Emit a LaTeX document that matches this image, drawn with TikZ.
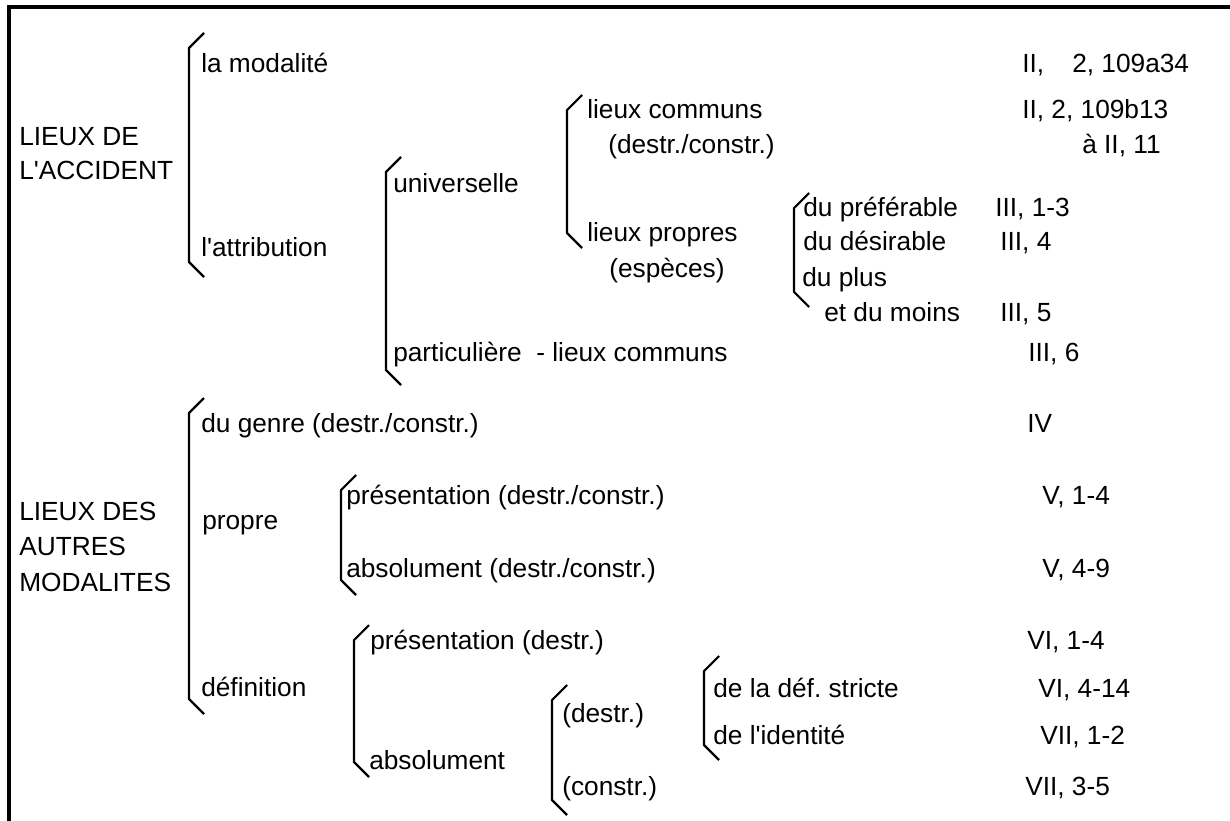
\documentclass[tikz,border=0pt]{standalone}
\usepackage{fontspec}
\setmainfont{Liberation Sans}[Ligatures=TeXOff]
\newcommand\brkt[3]{\draw[brk] (#1+15,#2) -- (#1,#2+15) -- (#1,#3-15) -- (#1+15,#3);}
\begin{document}
\frenchspacing
\begin{tikzpicture}[x=0.75pt,y=-0.75pt,
  lbl/.style={anchor=base west,inner sep=0pt,font=\fontsize{19.7}{24}\selectfont},
  brk/.style={line width=1.6pt,line join=miter},
  frame/.style={line width=2.3pt}]
\useasboundingbox (0,0) rectangle (1230,820);
\draw[frame] (9,830) -- (9,7) -- (1240,7);
% brackets
\brkt{189}{33}{277}
\brkt{386}{157}{385}
\brkt{567}{95}{248}
\brkt{794}{193}{307}
\brkt{189}{398}{714}
\brkt{341}{475}{595}
\brkt{354}{625}{777}
\brkt{552}{685}{815}
\brkt{704}{656}{760}
% first part
\node[lbl] (lda1) at (19,146) {LIEUX DE};
\node[lbl] (lda2) at (19,180) {L'ACCIDENT};
\node[lbl] (mod) at (201,73) {la modalité};
\node[lbl] (attr) at (201,256) {l'attribution};
\node[lbl] (univ) at (393,192) {universelle};
\node[lbl] (part) at (393,361) {particulière\ \ - lieux communs};
\node[lbl] (lc) at (587,119) {lieux communs};
\node[lbl] (lcd) at (608,154) {(destr./constr.)};
\node[lbl] (lp) at (587,241) {lieux propres};
\node[lbl] (lpe) at (609,277) {(espèces)};
\node[lbl] (pref) at (803,216) {du préférable};
\node[lbl] (des) at (803,250) {du désirable};
\node[lbl] (plus) at (802,286) {du plus};
\node[lbl] (moins) at (824,321) {et du moins};
% second part
\node[lbl] (ldm1) at (19,520) {LIEUX DES};
\node[lbl] (ldm2) at (19,555) {AUTRES};
\node[lbl] (ldm3) at (19,591) {MODALITES};
\node[lbl] (genre) at (201,432) {du genre (destr./constr.)};
\node[lbl] (propre) at (202,529) {propre};
\node[lbl] (def) at (201,696) {définition};
\node[lbl] (pres1) at (346,504) {présentation (destr./constr.)};
\node[lbl] (abs1) at (346,577) {absolument (destr./constr.)};
\node[lbl] (pres2) at (370,649) {présentation (destr.)};
\node[lbl] (abs2) at (369,769) {absolument};
\node[lbl] (dd) at (562,722) {(destr.)};
\node[lbl] (dc) at (562,795) {(constr.)};
\node[lbl] (dst) at (713,697) {de la déf. stricte};
\node[lbl] (did) at (713,744) {de l'identité};
% references
\node[lbl] (r1a) at (1022,73) {II,};
\node[lbl] (r1b) at (1072,73) {2, 109a34};
\node[lbl] (r2) at (1022,119) {II, 2, 109b13};
\node[lbl] (r3) at (1082,154) {à II, 11};
\node[lbl] (r4) at (995,216) {III, 1-3};
\node[lbl] (r5) at (1000,250) {III, 4};
\node[lbl] (r6) at (1000,321) {III, 5};
\node[lbl] (r7) at (1028,361) {III, 6};
\node[lbl] (r8) at (1027,432) {IV};
\node[lbl] (r9) at (1042,504) {V, 1-4};
\node[lbl] (r10) at (1042,577) {V, 4-9};
\node[lbl] (r11) at (1027,649) {VI, 1-4};
\node[lbl] (r12) at (1038,697) {VI, 4-14};
\node[lbl] (r13) at (1040,744) {VII, 1-2};
\node[lbl] (r14) at (1025,795) {VII, 3-5};
\end{tikzpicture}
\end{document}
